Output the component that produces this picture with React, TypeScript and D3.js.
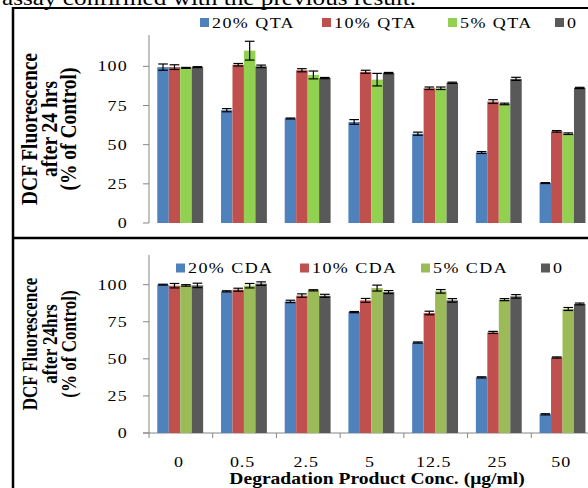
import React from 'react';
import * as d3 from 'd3';

const categories = ['0', '0.5', '2.5', '5', '12.5', '25', '50'];
const qtaSeries = ['20% QTA', '10% QTA', '5% QTA', '0'];
const cdaSeries = ['20% CDA', '10% CDA', '5% CDA', '0'];

const qta20 = [99.5, 72, 66.7, 64.5, 57, 45, 25.5];
const qta10 = [99.5, 101, 97.5, 96.5, 86, 77.5, 58.5];
const qta5 = [99, 110, 94.5, 91.5, 86, 76, 57];
const qta0 = [99.5, 100, 92.5, 95.7, 89.5, 92, 86.2];
const qta20Err = [2, 1, 0.3, 1.5, 1, 0.6, 0.3];
const qta10Err = [1.5, 0.8, 1, 1, 0.8, 1.2, 0.5];
const qta5Err = [0.3, 6, 2.5, 4, 0.8, 0.5, 0.5];
const qta0Err = [0.3, 0.8, 0.4, 0.4, 0.4, 1, 0.4];

const cda20 = [100, 95.5, 88.7, 81.5, 61, 37.5, 12.6];
const cda10 = [99.3, 96.6, 92.6, 89.4, 80.9, 67.8, 50.9];
const cda5 = [99.5, 99.3, 96.2, 97.7, 95.5, 89.9, 83.6];
const cda0 = [99.5, 100.7, 92.5, 95, 89.4, 92.1, 87];
const cda20Err = [0.3, 0.4, 0.8, 0.4, 0.4, 0.4, 0.4];
const cda10Err = [1.5, 1, 1.2, 1.3, 1.2, 0.7, 0.4];
const cda5Err = [0.5, 1.5, 0.4, 2, 1.2, 0.7, 1];
const cda0Err = [1.5, 1.2, 1, 1, 1.2, 1.2, 0.6];

const yTicks = [0, 25, 50, 75, 100];
const yMax = 120;

const SX = 1.2;
const FONT = "'Liberation Serif', 'Times New Roman', serif";
const AXIS = '#868686';

function Txt(props: any) {
  const { x, y, size, anchor = 'start', weight = 'normal', rot = false, ls = 0, children } = props;
  const tr = `translate(${x},${y}) scale(${SX},1)` + (rot ? ' rotate(-90)' : '');
  return (
    <text transform={tr} fontSize={size} textAnchor={anchor} fontWeight={weight}
      fontFamily={FONT} letterSpacing={ls} fill="#000">{children}</text>
  );
}

function Panel(props: any) {
  const { top, bottom, series, values, errors, colors, legendX, legendY, labelSize, labels, showX } = props;
  const x0 = d3.scaleBand().domain(categories).range([149, 595]).paddingInner(0).paddingOuter(0);
  const bw = x0.bandwidth();
  const x1 = d3.scaleBand().domain(series).range([bw * 0.13, bw * 0.85]).padding(0);
  const y = d3.scaleLinear().domain([0, yMax]).range([bottom, top]);
  const b = x1.bandwidth();
  const mid = (top + bottom) / 2;
  return (
    <g>
      {/* y axis */}
      <line x1={149} x2={149} y1={top} y2={bottom} stroke={AXIS} strokeWidth={1} />
      {yTicks.map(t => (
        <g key={t}>
          <line x1={143} x2={149} y1={y(t)} y2={y(t)} stroke={AXIS} strokeWidth={1} />
          <Txt x={128} y={y(t) + 5} size={15} anchor="end" ls={1}>{String(t)}</Txt>
        </g>
      ))}
      {showX && (
        <g>
          <line x1={143} x2={595} y1={bottom} y2={bottom} stroke={AXIS} strokeWidth={1} />
          {categories.map(c => (
            <line key={c} x1={x0(c)} x2={x0(c)} y1={bottom} y2={bottom + 5} stroke={AXIS} strokeWidth={1} />
          ))}
          {categories.map(c => (
            <Txt key={'l' + c} x={(x0(c) as number) + bw / 2 - 2} y={467} size={15} anchor="middle" ls={0.8}>{c}</Txt>
          ))}
        </g>
      )}
      {/* bars */}
      {categories.map((c, i) => (
        <g key={c}>
          {series.map((s: string, k: number) => {
            const v = values[k][i];
            const bx = (x0(c) as number) + (x1(s) as number);
            return (
              <rect key={s} x={bx} y={y(v)} width={b} height={bottom - y(v)} fill={colors[k]} />
            );
          })}
          {series.map((s: string, k: number) => {
            const v = values[k][i];
            const e = errors[k][i];
            const cx = (x0(c) as number) + (x1(s) as number) + b / 2;
            const hw = b * 0.42;
            return (
              <g key={'e' + s} stroke="#000" strokeWidth={1.2}>
                <line x1={cx} x2={cx} y1={y(v + e)} y2={y(v - e)} />
                <line x1={cx - hw} x2={cx + hw} y1={y(v + e)} y2={y(v + e)} />
                <line x1={cx - hw} x2={cx + hw} y1={y(v - e)} y2={y(v - e)} />
              </g>
            );
          })}
        </g>
      ))}
      {/* legend */}
      {series.map((s: string, k: number) => (
        <g key={'lg' + s}>
          <rect x={legendX[k]} y={legendY - 4.5} width={9} height={9} fill={colors[k]} />
          <Txt x={legendX[k] + 12} y={legendY + 5} size={15} ls={1.2}>{s}</Txt>
        </g>
      ))}
      {/* y label */}
      <Txt x={37} y={mid} size={labelSize} weight="bold" anchor="middle" rot>{labels[0]}</Txt>
      <Txt x={57} y={mid} size={labelSize} weight="bold" anchor="middle" rot>{labels[1]}</Txt>
      <Txt x={76} y={mid} size={labelSize} weight="bold" anchor="middle" rot>{labels[2]}</Txt>
    </g>
  );
}

export default function App() {
  return (
    <svg width={588} height={488} style={{ position: 'absolute', left: 0, top: 0, background: '#fff' }}>
      <rect x={0} y={0} width={588} height={488} fill="#fff" />
      <Txt x={2} y={5} size={21}>assay confirmed with the previous result.</Txt>
      <Panel
        top={35} bottom={223}
        series={qtaSeries}
        values={[qta20, qta10, qta5, qta0]}
        errors={[qta20Err, qta10Err, qta5Err, qta0Err]}
        colors={['#4F81BD', '#C0504D', '#92D050', '#595959']}
        legendX={[200, 322, 448, 555]}
        legendY={22.5}
        labelSize={19.5}
        labels={['DCF Fluorescence', 'after 24 hrs', '(% of Control)']}
        showX={false}
      />
      <Panel
        top={255} bottom={433}
        series={cdaSeries}
        values={[cda20, cda10, cda5, cda0]}
        errors={[cda20Err, cda10Err, cda5Err, cda0Err]}
        colors={['#4F81BD', '#C0504D', '#9BBB59', '#595959']}
        legendX={[176, 300, 421, 541]}
        legendY={268}
        labelSize={17}
        labels={['DCF Fluorescence', 'after 24hrs', '(% of Control)']}
        showX={true}
      />
      <Txt x={377} y={484} size={16.3} weight="bold" anchor="middle">Degradation Product Conc. (μg/ml)</Txt>
      {/* frame */}
      <line x1={13} x2={13} y1={7} y2={488} stroke="#000" strokeWidth={2.5} />
      <line x1={12} x2={588} y1={8} y2={8} stroke="#000" strokeWidth={2} />
      <line x1={12} x2={588} y1={238} y2={238} stroke="#000" strokeWidth={2.5} />
    </svg>
  );
}
